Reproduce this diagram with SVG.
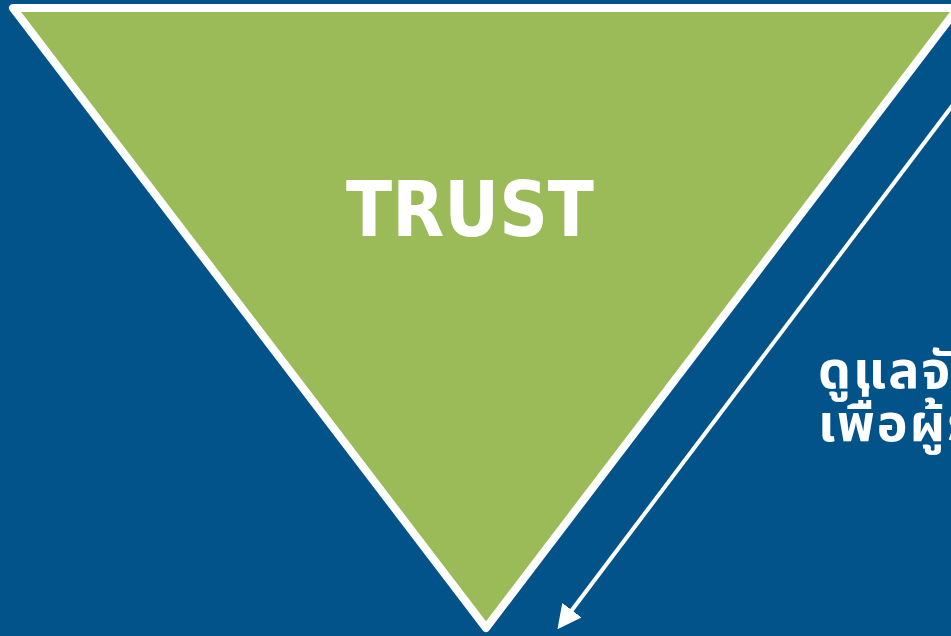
<svg xmlns="http://www.w3.org/2000/svg" width="951" height="636" viewBox="0 0 951 636">
<defs>
<style>
.tri{fill:#9BBB59;stroke:#FFFFFF;stroke-width:8;stroke-linejoin:round}
.title{font-family:"DejaVu Sans","Liberation Sans",sans-serif;font-weight:bold;fill:#FFFFFF}
.thai{font-family:"Noto Sans Thai","Noto Sans","DejaVu Sans",sans-serif;font-weight:bold;fill:#FFFFFF;font-size:52px;letter-spacing:2px}
.conn{stroke:#FFFFFF;stroke-width:4;fill:none}
</style>
<marker id="ah" viewBox="0 0 10 10" refX="2" refY="5" markerWidth="6" markerHeight="6" orient="auto" markerUnits="strokeWidth">
<path d="M0,0 L10,5 L0,10 Z" fill="#FFFFFF"/>
</marker>
</defs>
<rect x="0" y="0" width="951" height="636" fill="#02538A"/>
<g id="trust">
<polygon class="tri" points="13,8 958,8 486,628"/>
<text class="title" x="470" y="236" font-size="77" text-anchor="middle" textLength="248" lengthAdjust="spacingAndGlyphs">TRUST</text>
</g>
<g id="label">
<text class="thai" x="818" y="388">ดูแลจัดการ</text>
<text class="thai" x="818" y="441">เพื่อผู้รับประโยชน์</text>
</g>
<g id="connectors">
<line class="conn" x1="955" y1="102" x2="569" y2="614" marker-end="url(#ah)"/>
</g>
</svg>
